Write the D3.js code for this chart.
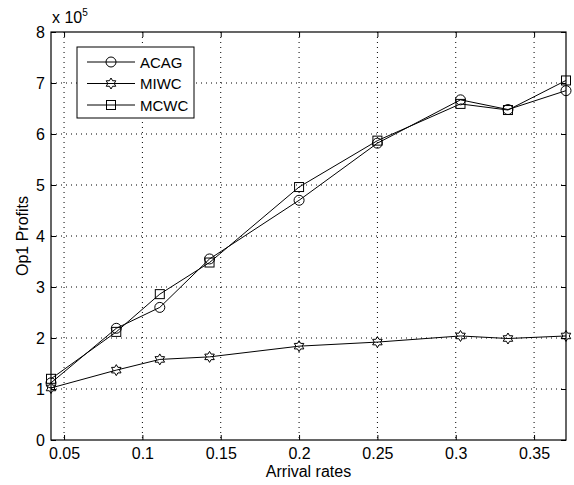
<!DOCTYPE html>
<html><head><meta charset="utf-8">
<script src="https://cdn.jsdelivr.net/npm/d3@7"></script>
<style>body{margin:0;background:#fff}svg{display:block}text{font-family:"Liberation Sans",Arial,sans-serif;fill:#000}</style>
</head><body><svg id="c" width="574" height="485"></svg>
<script>
const xValues = [1/24, 1/12, 1/9, 1/7, 0.2, 0.25, 1/3.3, 1/3, 1/2.7];
const acag = [1.12, 2.19, 2.60, 3.55, 4.70, 5.82, 6.67, 6.48, 6.85];
const miwc = [1.02, 1.37, 1.58, 1.63, 1.84, 1.92, 2.04, 1.99, 2.04];
const mcwc = [1.20, 2.12, 2.86, 3.48, 4.96, 5.87, 6.59, 6.47, 7.05];
const seriesNames = ["ACAG", "MIWC", "MCWC"];
const markers = ["circle", "hexagram", "square"];
const xTicks = [0.05, 0.1, 0.15, 0.2, 0.25, 0.3, 0.35];
const yTicks = [0, 1, 2, 3, 4, 5, 6, 7, 8];

const svg = d3.select("#c");
const L = 51, R = 566, T = 32, B = 440;
const FS = 16;
const x = d3.scaleLinear().domain([1/24, 1/2.7]).range([L, R]);
const y = d3.scaleLinear().domain([0, 8]).range([B, T]);

// grid
const g = svg.append("g");
g.selectAll(".gx").data(xTicks).enter().append("line")
  .attr("x1", d => x(d)).attr("x2", d => x(d)).attr("y1", T).attr("y2", B)
  .attr("stroke", "#000").attr("stroke-width", 1).attr("stroke-dasharray", "1,4");
g.selectAll(".gy").data(yTicks.slice(1, -1)).enter().append("line")
  .attr("x1", L).attr("x2", R).attr("y1", d => y(d)).attr("y2", d => y(d))
  .attr("stroke", "#000").attr("stroke-width", 1).attr("stroke-dasharray", "1,4");

// axes
const fmt = d => String(d);
const ax = svg.append("g").attr("transform", `translate(0,${B})`)
  .call(d3.axisBottom(x).tickValues(xTicks).tickFormat(fmt).tickSizeInner(-5).tickSizeOuter(0).tickPadding(8));
const ay = svg.append("g").attr("transform", `translate(${L},0)`)
  .call(d3.axisLeft(y).tickValues(yTicks).tickFormat(fmt).tickSizeInner(-5).tickSizeOuter(0).tickPadding(6));
const axt = svg.append("g").attr("transform", `translate(0,${T})`)
  .call(d3.axisTop(x).tickValues(xTicks).tickFormat("").tickSizeInner(-5).tickSizeOuter(0));
const ayr = svg.append("g").attr("transform", `translate(${R},0)`)
  .call(d3.axisRight(y).tickValues(yTicks).tickFormat("").tickSizeInner(-5).tickSizeOuter(0));
[ax, ay, axt, ayr].forEach(a => {
  a.select(".domain").remove();
  a.selectAll("line").attr("stroke", "#000");
  a.selectAll("text").attr("font-size", FS).style("font-family", '"Liberation Sans",Arial,sans-serif').attr("fill", "#000");
});
svg.append("rect").attr("x", L).attr("y", T).attr("width", R - L).attr("height", B - T)
  .attr("fill", "none").attr("stroke", "#000").attr("stroke-width", 1.2);

// markers
function hexPath(r) {
  const pts = [];
  for (let i = 0; i < 12; i++) {
    const a = -Math.PI / 2 + i * Math.PI / 6;
    const rr = i % 2 === 0 ? r : r * 0.58;
    pts.push([rr * Math.cos(a), rr * Math.sin(a)]);
  }
  return "M" + pts.map(p => p.join(",")).join("L") + "Z";
}
function drawMarker(sel, type) {
  if (type === "circle") sel.append("circle").attr("r", 5);
  else if (type === "square") sel.append("rect").attr("x", -4.5).attr("y", -4.5).attr("width", 9).attr("height", 9);
  else sel.append("path").attr("d", hexPath(5.5));
  sel.selectAll("*").attr("fill", "none").attr("stroke", "#000").attr("stroke-width", 1);
}

const data = [acag, miwc, mcwc];
const line = d3.line().x((d, i) => x(xValues[i])).y(d => y(d));
data.forEach((vals, si) => {
  svg.append("path").datum(vals).attr("d", line).attr("fill", "none").attr("stroke", "#000").attr("stroke-width", 1);
  vals.forEach((v, i) => {
    const m = svg.append("g").attr("transform", `translate(${x(xValues[i])},${y(v)})`);
    drawMarker(m, markers[si]);
  });
});

// exponent label
const ex = svg.append("text").attr("x", 52).attr("y", 23).attr("font-size", FS);
ex.append("tspan").text("x 10");
ex.append("tspan").attr("font-size", 10).attr("dy", -7).text("5");

// axis labels
svg.append("text").attr("x", (L + R) / 2).attr("y", 477).attr("text-anchor", "middle").attr("font-size", FS).text("Arrival rates");
svg.append("text").attr("transform", `translate(28,${(T + B) / 2}) rotate(-90)`).attr("text-anchor", "middle").attr("font-size", FS).text("Op1 Profits");

// legend
const lg = svg.append("g");
lg.append("rect").attr("x", 77).attr("y", 47).attr("width", 117).attr("height", 71)
  .attr("fill", "#fff").attr("stroke", "#000").attr("stroke-width", 1);
seriesNames.forEach((name, i) => {
  const yy = 62 + i * 21.5;
  lg.append("line").attr("x1", 87).attr("x2", 135).attr("y1", yy).attr("y2", yy).attr("stroke", "#000");
  const m = lg.append("g").attr("transform", `translate(111,${yy})`);
  drawMarker(m, markers[i]);
  lg.append("text").attr("x", 140).attr("y", yy + 5.5).attr("font-size", 15).text(name);
});
</script></body></html>
